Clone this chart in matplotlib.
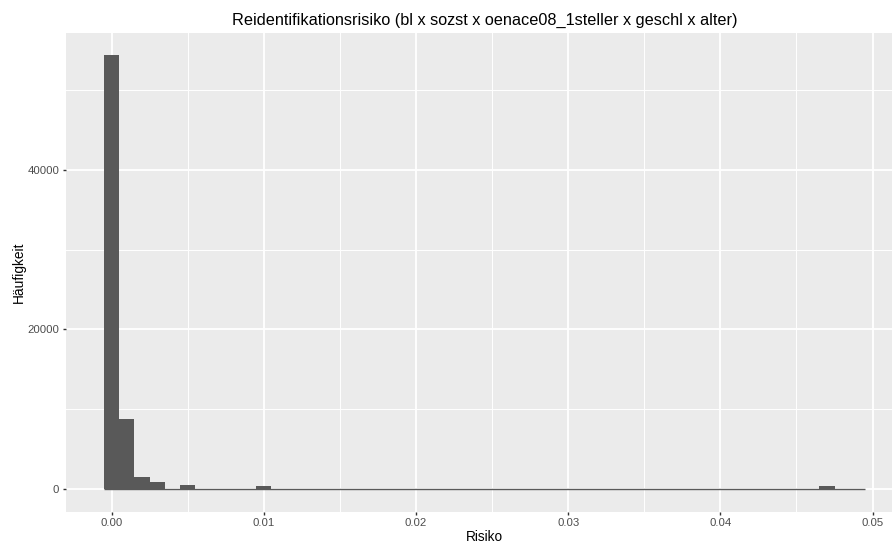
import numpy as np
import matplotlib
matplotlib.use("Agg")
import matplotlib.pyplot as plt

# Histogram data: 50 bins of width 0.001, centred at 0.000 ... 0.049
bin_centers = [i / 1000 for i in range(50)]
counts = [0] * 50
counts[0] = 54400
counts[1] = 8800
counts[2] = 1540
counts[3] = 910
counts[5] = 540
counts[10] = 420
counts[47] = 420
bin_width = 0.001

title = "Reidentifikationsrisiko (bl x sozst x oenace08_1steller x geschl x alter)"
xlabel = "Risiko"
ylabel = "Häufigkeit"
xticks = [0.00, 0.01, 0.02, 0.03, 0.04, 0.05]
xticklabels = ["0.00", "0.01", "0.02", "0.03", "0.04", "0.05"]
yticks = [0, 20000, 40000]
yticklabels = ["0", "20000", "40000"]

plt.rcParams['font.family'] = ['Liberation Sans', 'DejaVu Sans']

W, H = 892, 543
fig = plt.figure(figsize=(W / 100, H / 100), dpi=100)
left, right, top, bottom = 66, 903, 33, 512
ax = fig.add_axes([left / W, 1 - bottom / H, (right - left) / W, (bottom - top) / H])
ax.set_facecolor("#EBEBEB")

# gridlines
for m in [0.005, 0.015, 0.025, 0.035, 0.045]:
    ax.axvline(m, color="white", lw=0.7, zorder=0)
for m in [10000, 30000, 50000]:
    ax.axhline(m, color="white", lw=0.7, zorder=0)
for t in xticks:
    ax.axvline(t, color="white", lw=1.3, zorder=0)
for t in yticks:
    ax.axhline(t, color="white", lw=1.3, zorder=0)

ax.bar(bin_centers, counts, width=bin_width, color="#595959", linewidth=0, zorder=2)
edges_lo = bin_centers[0] - bin_width / 2
edges_hi = bin_centers[-1] + bin_width / 2
ax.hlines(0, edges_lo, edges_hi, color="#595959", lw=1.0, zorder=2)

ax.set_xlim(-0.003, 0.052)
ymax = max(counts)
ax.set_ylim(-0.053 * ymax, 1.051 * ymax)

ax.set_xticks(xticks)
ax.set_xticklabels(xticklabels)
ax.set_yticks(yticks)
ax.set_yticklabels(yticklabels)
ax.tick_params(axis="both", length=2.4, width=1.0, color="#333333",
               labelcolor="#4D4D4D", labelsize=8.2)
ax.tick_params(axis="x", pad=1.6)
ax.tick_params(axis="y", pad=2.4)
for s in ax.spines.values():
    s.set_visible(False)

ph = bottom - top
pw = right - left
ax.set_title(title, fontsize=11.7, color="black", pad=0,
             y=(bottom - 24.5) / ph, va="baseline")
ax.set_xlabel(xlabel, fontsize=9.8)
ax.xaxis.label.set_va("baseline")
ax.xaxis.set_label_coords(0.5, (bottom - 541) / ph)
ax.set_ylabel(ylabel, fontsize=9.9)
ax.yaxis.label.set_va("baseline")
ax.yaxis.set_label_coords((22.7 - left) / pw, 0.5)

fig.savefig("out.png", dpi=100)
